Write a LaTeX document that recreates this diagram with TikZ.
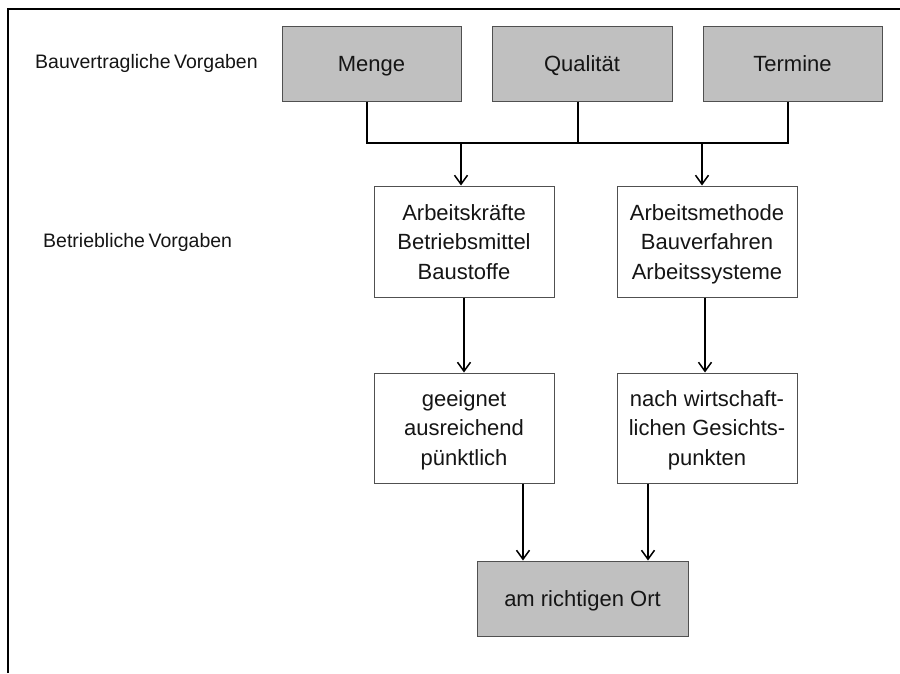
\documentclass[tikz,border=0pt]{standalone}
\usepackage{fontspec}
\setmainfont{Liberation Sans}
\usetikzlibrary{arrows.meta}
\definecolor{boxgray}{HTML}{C0C0C0}
\definecolor{edgegray}{HTML}{505050}
\definecolor{ink}{HTML}{151515}
\newcommand{\tightspace}{\spaceskip=0.18em plus 0.05em\relax}
\begin{document}
\begin{tikzpicture}[x=1pt,y=-1pt,
  every node/.style={text=ink},
  box/.style={draw=edgegray,line width=1pt,rectangle,align=center,inner sep=0pt,
    font=\fontsize{22}{29.5}\selectfont},
  graybox/.style={box,fill=boxgray,minimum height=75pt,text height=16pt,text depth=-3pt},
  whitebox/.style={box,fill=white,minimum width=180pt,minimum height=111pt,
    text height=75pt,text depth=-3pt},
  sidelabel/.style={anchor=base west,inner sep=0pt,font=\fontsize{19.5}{24}\selectfont},
  conn/.style={draw=black,line width=1.7pt},
  arr/.style={conn,-{Straight Barb[length=9pt,width=13pt,line width=1.5pt]}}]
\useasboundingbox (0,0) rectangle (900,673);

% outer frame (left and top edge only)
\draw[line width=2pt,black] (8,673) -- (8,9) -- (900,9);

% side labels
\node[sidelabel] (lab1) at (35,68) {\tightspace Bauvertragliche Vorgaben};
\node[sidelabel] (lab2) at (43,247) {\tightspace Betriebliche Vorgaben};

% contractual targets
\node[graybox,minimum width=179pt] (menge) at (371.5,63.5) {Menge};
\node[graybox,minimum width=180pt] (qual)  at (582,63.5) {Qualität};
\node[graybox,minimum width=179pt] (term)  at (792.5,63.5) {Termine};

% operational targets
\node[whitebox] (res)  at (464,241.5) {Arbeitskräfte\\Betriebsmittel\\Baustoffe};
\node[whitebox] (meth) at (707,241.5) {Arbeitsmethode\\Bauverfahren\\Arbeitssysteme};

% requirements
\node[whitebox,minimum height=110pt,text height=74pt,text depth=-2.6pt] (req1) at (464,428) {geeignet\\ausreichend\\pünktlich};
\node[whitebox,minimum height=110pt,text height=74pt,text depth=-2.6pt] (req2) at (707,428) {nach wirtschaft-\\lichen Gesichts-\\punkten};

% result
\node[graybox,minimum width=211pt] (ort) at (582.5,598.5) {am richtigen Ort};

% collecting bar
\coordinate (bar) at (0,143);
\draw[conn] ([xshift=-4.5pt]menge.south) -- ([xshift=-4.5pt]menge.south |- bar)
  -- ([xshift=-4.5pt]term.south |- bar) -- ([xshift=-4.5pt]term.south);
\draw[conn] ([xshift=-4pt]qual.south) -- ([xshift=-4pt]qual.south |- bar);

\draw[arr] ([xshift=-3pt]res.north |- bar) -- ([xshift=-3pt]res.north);
\draw[arr] ([xshift=-5pt]meth.north |- bar) -- ([xshift=-5pt]meth.north);

\draw[arr] (res.south) -- (req1.north);
\draw[arr] ([xshift=-2pt]meth.south) -- ([xshift=-2pt]req2.north);

\draw[arr] ([xshift=59pt]req1.south) -- ([xshift=59pt]req1.south |- ort.north);
\draw[arr] ([xshift=-59pt]req2.south) -- ([xshift=-59pt]req2.south |- ort.north);
\end{tikzpicture}
\end{document}
